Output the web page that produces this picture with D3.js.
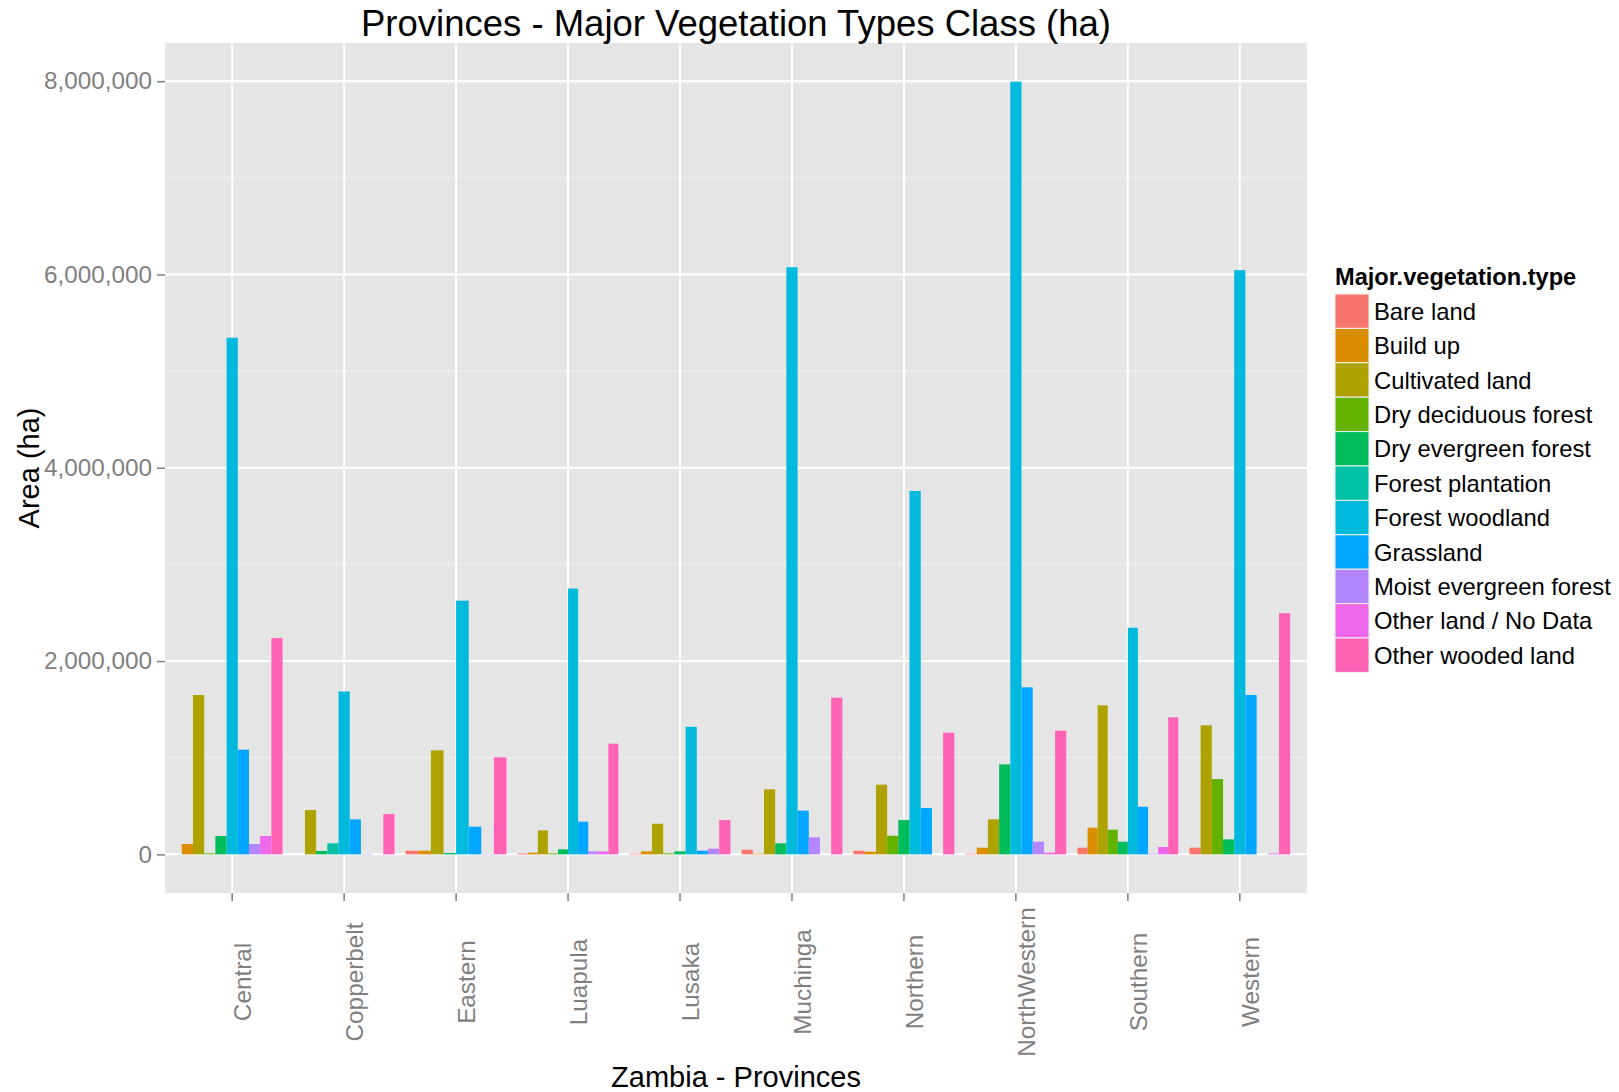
<!DOCTYPE html>
<html>
<head>
<meta charset="utf-8">
<script src="https://cdn.jsdelivr.net/npm/d3@7"></script>
<style>
body { margin: 0; background: #fff; }
text { font-family: "Liberation Sans", Arial, sans-serif; }
</style>
</head>
<body>
<svg id="chart" width="1619" height="1092"></svg>
<script>
var provinces = ["Central", "Copperbelt", "Eastern", "Luapula", "Lusaka", "Muchinga", "Northern", "NorthWestern", "Southern", "Western"];
var types = ["Bare land", "Build up", "Cultivated land", "Dry deciduous forest", "Dry evergreen forest", "Forest plantation", "Forest woodland", "Grassland", "Moist evergreen forest", "Other land / No Data", "Other wooded land"];

// null = type not present in that province (no slot in the dodge)
var bareLand       = [null, 0, 38000, 10000, 7000, 48000, 38000, 7000, 69000, 69000];
var buildUp        = [107000, null, 38000, 17000, 31000, 7000, 28000, 69000, 276000, null];
var cultivated     = [1649000, 458000, 1076000, 248000, 317000, 673000, 721000, 362000, 1542000, 1335000];
var dryDeciduous   = [10000, null, null, 10000, 10000, null, 193000, null, 255000, 779000];
var dryEvergreen   = [190000, 35000, 14000, 52000, 31000, 114000, 355000, 931000, 131000, 155000];
var plantation     = [null, 114000, null, null, null, null, null, null, null, null];
var forestWoodland = [5345000, 1685000, 2625000, 2750000, 1320000, 6075000, 3760000, 7995000, 2345000, 6045000];
var grassland      = [1083000, 362000, 286000, 338000, 38000, 452000, 479000, 1728000, 493000, 1649000];
var moistEvergreen = [107000, 5000, 5000, 31000, 59000, 176000, 0, 131000, 7000, 0];
var otherLand      = [190000, 0, null, 31000, null, 0, null, 17000, 76000, 10000];
var otherWooded    = [2238000, 417000, 1004000, 1145000, 355000, 1621000, 1259000, 1280000, 1418000, 2495000];

var series = [bareLand, buildUp, cultivated, dryDeciduous, dryEvergreen, plantation, forestWoodland, grassland, moistEvergreen, otherLand, otherWooded];
var colors = ["#F8766D", "#DB8E00", "#AEA200", "#64B200", "#00BD5C", "#00C1A7", "#00BADE", "#00A6FF", "#B385FF", "#EF67EB", "#FF63B6"];
var yTicks = [0, 2000000, 4000000, 6000000, 8000000];
var yMinor = [1000000, 3000000, 5000000, 7000000];

var svg = d3.select("#chart"),
    panel = {left: 165, right: 1307, top: 43, bottom: 893};

var ymax = d3.max(forestWoodland);
var x = d3.scaleLinear().domain([0.4, provinces.length + 0.6]).range([panel.left, panel.right]),
    y = d3.scaleLinear().domain([-0.05 * ymax, 1.05 * ymax]).range([panel.bottom, panel.top]),
    color = d3.scaleOrdinal().domain(types).range(colors);

// build dodged bars per province
var bars = [];
provinces.forEach(function(p, i) {
    var present = [];
    series.forEach(function(s, j) { if (s[i] !== null) present.push({type: types[j], value: s[i]}); });
    var w = 0.9 / present.length;
    present.forEach(function(d, k) {
        bars.push({prov: p, type: d.type, value: d.value, x0: i + 1 - 0.45 + k * w, x1: i + 1 - 0.45 + (k + 1) * w});
    });
});

svg.append("rect")
    .attr("x", panel.left).attr("y", panel.top)
    .attr("width", panel.right - panel.left).attr("height", panel.bottom - panel.top)
    .attr("fill", "#E5E5E5");

svg.append("g").selectAll("line").data(yMinor).enter().append("line")
    .attr("x1", panel.left).attr("x2", panel.right)
    .attr("y1", function(d) { return y(d); }).attr("y2", function(d) { return y(d); })
    .attr("stroke", "#F2F2F2").attr("stroke-width", 1);

svg.append("g").selectAll("line").data(yTicks).enter().append("line")
    .attr("x1", panel.left).attr("x2", panel.right)
    .attr("y1", function(d) { return y(d); }).attr("y2", function(d) { return y(d); })
    .attr("stroke", "#fff").attr("stroke-width", 2);

svg.append("g").selectAll("line").data(provinces).enter().append("line")
    .attr("x1", function(d, i) { return x(i + 1); }).attr("x2", function(d, i) { return x(i + 1); })
    .attr("y1", panel.top).attr("y2", panel.bottom)
    .attr("stroke", "#fff").attr("stroke-width", 2);

svg.append("g").selectAll("rect").data(bars).enter().append("rect")
    .attr("x", function(d) { return x(d.x0); })
    .attr("width", function(d) { return x(d.x1) - x(d.x0); })
    .attr("y", function(d) { return y(d.value); })
    .attr("height", function(d) { return y(0) - y(d.value); })
    .attr("fill", function(d) { return color(d.type); });

// y axis
var yAxis = svg.append("g").attr("transform", "translate(" + panel.left + ",0)")
    .call(d3.axisLeft(y).tickValues(yTicks).tickFormat(d3.format(",")).tickSize(8).tickPadding(5));
yAxis.select(".domain").remove();
yAxis.selectAll("line").attr("stroke", "#7F7F7F").attr("stroke-width", 1.5);
yAxis.selectAll("text").attr("fill", "#7F7F7F").style("font-size", "24.3px")
    .style("font-family", "'Liberation Sans', Arial, sans-serif");

// x axis
var xAxis = svg.append("g").attr("transform", "translate(0," + panel.bottom + ")");
xAxis.selectAll("line").data(provinces).enter().append("line")
    .attr("x1", function(d, i) { return x(i + 1); }).attr("x2", function(d, i) { return x(i + 1); })
    .attr("y1", 0).attr("y2", 8)
    .attr("stroke", "#7F7F7F").attr("stroke-width", 1.5);
xAxis.selectAll("text").data(provinces).enter().append("text")
    .attr("transform", function(d, i) { return "translate(" + (x(i + 1) + 19) + ",89) rotate(-90)"; })
    .attr("text-anchor", "middle")
    .attr("fill", "#7F7F7F").style("font-size", "24.3px")
    .text(function(d) { return d; });

// titles
svg.append("text")
    .attr("x", (panel.left + panel.right) / 2).attr("y", 36)
    .attr("text-anchor", "middle").style("font-size", "36.5px")
    .text("Provinces - Major Vegetation Types Class (ha)");

svg.append("text")
    .attr("x", (panel.left + panel.right) / 2).attr("y", 1087)
    .attr("text-anchor", "middle").style("font-size", "29px")
    .text("Zambia - Provinces");

svg.append("text")
    .attr("transform", "translate(39," + (panel.top + panel.bottom) / 2 + ") rotate(-90)")
    .attr("text-anchor", "middle").style("font-size", "29px")
    .text("Area (ha)");

// legend
var legend = svg.append("g").attr("transform", "translate(1335,294)");
legend.append("text")
    .attr("x", 0).attr("y", -9)
    .style("font-size", "23.6px").style("font-weight", "bold")
    .text("Major.vegetation.type");
var item = legend.selectAll(".item").data(types).enter().append("g")
    .attr("class", "item")
    .attr("transform", function(d, i) { return "translate(0," + i * 34.4 + ")"; });
item.append("rect")
    .attr("width", 34).attr("height", 34.4)
    .attr("fill", function(d) { return color(d); })
    .attr("stroke", "#F2F2F2").attr("stroke-width", 1);
item.append("text")
    .attr("x", 39).attr("y", 17.2).attr("dy", "0.36em")
    .style("font-size", "23.8px")
    .text(function(d) { return d; });
</script>
</body>
</html>
